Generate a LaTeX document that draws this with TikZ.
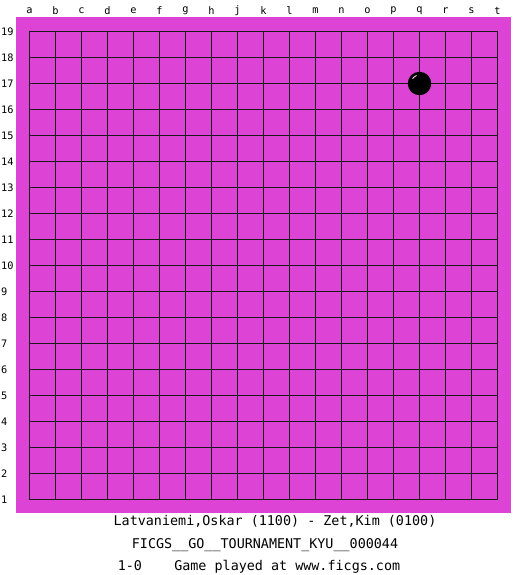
\documentclass[tikz,border=0pt]{standalone}
\usepackage{fontspec}
\setmonofont{DejaVu Sans Mono}
\usetikzlibrary{positioning}
\definecolor{boardpink}{RGB}{221,68,213}

\begin{document}
\begin{tikzpicture}[
    x=1pt, y=-1pt,
    gridline/.style={line width=1.4pt, draw=black!90},
    coordlbl/.style={font=\ttfamily\fontsize{10.3}{12}\selectfont, inner sep=0pt, text=black},
    infolbl/.style={font=\ttfamily\fontsize{13.4}{15}\selectfont, inner sep=0pt, text=black},
    stone/.style={circle, fill=black, minimum size=23.5pt, inner sep=0pt},
]
\useasboundingbox (0,0) rectangle (525,575);

% --- board ---
\fill[boardpink] (16,17) rectangle (511,513);
\foreach \k in {1,...,17} {
  \draw[gridline] ({29.5+26*\k},31.5) -- ({29.5+26*\k},499.5);
  \draw[gridline] (29.5,{31.5+26*\k}) -- (497.5,{31.5+26*\k});
}
\draw[gridline] (29.5,31.5) rectangle (497.5,499.5);

% --- coordinates ---
\foreach \c [count=\i from 0] in {a,b,c,d,e,f,g,h,j,k,l,m,n,o,p,q,r,s,t}
  \node[coordlbl] (col-\c) at ({29.5+26*\i},11) {\c};
\foreach \r in {1,...,19}
  \node[coordlbl, anchor=west] (row-\r) at (1,{31.5+26*(19-\r)}) {\r};

% --- stone on q17 ---
\node[stone] (q17) at (419.5,83.5) {};
\draw[white!75!boardpink, line width=0.9pt] ([shift={(215:8.5)}]q17.center) arc[start angle=215, end angle=250, radius=8.5];

% --- game info ---
\node[infolbl] (players) at (275,521) {Latvaniemi,Oskar (1100) - Zet,Kim (0100)};
\node[infolbl] (event)   at (265,545) {FICGS\_\_GO\_\_TOURNAMENT\_KYU\_\_000044};
\node[infolbl] (result)  at (259,567) {1-0\ \ \ \ Game played at www.ficgs.com};
\end{tikzpicture}
\end{document}
